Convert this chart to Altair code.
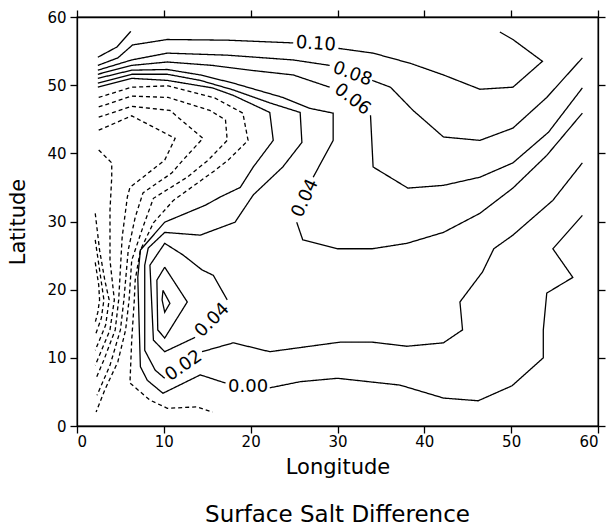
import altair as alt
import pandas as pd

# ---- contour polylines (lon, lat) ----
c_p012 = [(2.4, 54.1), (4.6, 55.6), (6.2, 57.9)]

c_p010_a = [(2.4, 52.9), (4.7, 54.0), (6.4, 55.9), (10.4, 56.7), (17.3, 56.6), (24.9, 56.2)]
c_p010_b = [(30.1, 55.4), (34.1, 54.7), (38.4, 53.2), (42.2, 51.5), (46.4, 49.4), (50.2, 49.7),
            (53.6, 53.5), (50.2, 56.7), (48.7, 57.8)]

c_p008_a = [(2.4, 52.2), (6.3, 53.7), (10.4, 54.7), (17.3, 54.4), (24.9, 53.7), (29.1, 52.9)]
c_p008_b = [(34.0, 50.7), (36.1, 49.7), (38.7, 46.3), (42.2, 42.4), (46.4, 41.9), (50.2, 43.7),
            (54.1, 48.2), (58.2, 54.0)]

c_p006_a = [(2.4, 51.6), (6.3, 52.9), (10.4, 53.4), (15.6, 52.9), (19.9, 52.2), (24.9, 51.5), (29.1, 49.7)]
c_p006_b = [(33.8, 45.6), (34.1, 38.0), (38.1, 34.9), (42.2, 35.3), (46.4, 36.5), (50.2, 38.6),
            (54.3, 43.1), (58.2, 49.6)]

c_p004_a = [(2.4, 51.0), (6.3, 52.2), (10.4, 52.3), (14.2, 51.5), (18.0, 50.3), (23.7, 48.2),
            (26.8, 46.6), (29.5, 45.9), (29.5, 41.9), (27.2, 36.5)]
c_p004_b = [(25.3, 29.9), (26.0, 27.3), (30.0, 26.0), (34.0, 26.0), (38.0, 26.8), (42.2, 28.4),
            (46.4, 31.2), (50.2, 34.9), (54.1, 39.7), (58.2, 45.9)]

c_p002_a = [(2.4, 50.3), (6.3, 51.6), (10.4, 51.6), (14.2, 50.7), (18.0, 49.3), (22.2, 47.4),
            (25.7, 46.0), (25.9, 41.6), (23.7, 38.0), (20.3, 33.9), (18.2, 29.9), (14.2, 28.0),
            (10.1, 28.4), (8.2, 26.1), (7.8, 23.6), (7.8, 11.1), (9.0, 8.2), (10.1, 7.0)]
c_p002_b = [(14.4, 10.9), (18.0, 12.2), (22.2, 10.9), (30.3, 12.3), (34.0, 12.3), (38.0, 11.7),
            (42.2, 12.2), (44.4, 14.1), (44.1, 18.2), (46.7, 22.6), (48.0, 26.0), (50.2, 28.0),
            (54.8, 33.1), (58.2, 38.6)]

c_p004_loop_a = [(17.3, 18.5), (15.7, 22.1), (14.4, 22.9), (12.2, 25.1), (10.1, 26.8), (8.4, 23.6),
                 (8.8, 12.6), (10.1, 10.9), (13.6, 13.0)]
c_p006_loop = [(10.1, 23.3), (12.7, 18.2), (10.1, 12.9), (9.3, 14.1), (9.2, 21.4), (10.1, 23.3)]
c_p008_loop = [(9.9, 19.9), (10.7, 18.0), (10.1, 16.7), (9.8, 18.5), (9.9, 19.9)]

c_000_a = [(2.4, 49.7), (6.3, 51.0), (10.4, 50.7), (15.6, 49.6), (18.0, 48.5), (22.2, 46.0),
           (22.6, 41.9), (20.3, 38.0), (18.8, 35.0), (16.5, 33.6), (14.8, 32.4), (10.1, 29.9),
           (7.3, 25.8), (7.0, 21.8), (7.3, 8.7), (8.1, 6.7), (9.9, 4.8), (14.2, 7.5), (17.1, 6.3)]
c_000_b = [(22.2, 5.6), (25.7, 6.5), (30.0, 7.0), (37.2, 6.0), (42.2, 4.1), (46.2, 3.7), (50.1, 5.9),
           (53.7, 10.0), (53.7, 14.1), (54.1, 19.5), (57.1, 21.8), (54.8, 26.0), (58.2, 30.9)]

c_m002 = [(2.5, 48.2), (6.3, 49.7), (10.5, 49.9), (15.9, 48.1), (19.1, 45.9), (19.7, 41.9), (17.4, 39.0),
          (15.9, 37.5), (11.1, 33.1), (8.8, 29.8), (7.3, 25.8), (6.7, 21.4), (6.6, 18.5), (6.3, 12.6),
          (6.1, 6.3), (8.4, 3.8), (10.4, 2.6), (13.8, 2.8), (15.6, 2.05)]
c_m004 = [(2.5, 46.8), (6.3, 48.4), (10.5, 48.2), (15.3, 46.3), (17.1, 44.9), (17.3, 41.9), (15.1, 39.0),
          (12.7, 36.5), (8.8, 33.4), (7.6, 29.2), (6.3, 24.3), (6.0, 18.5), (5.6, 14.1), (4.7, 9.4),
          (3.2, 5.3), (2.2, 2.05)]
c_m006 = [(2.5, 45.3), (6.3, 46.9), (10.7, 46.3), (14.5, 42.2), (12.2, 39.0), (10.9, 37.1), (7.6, 34.2),
          (6.7, 30.6), (5.9, 25.8), (5.4, 18.5), (5.0, 14.1), (3.8, 8.9), (2.3, 4.5)]
c_m008 = [(2.5, 43.4), (6.3, 45.5), (11.3, 42.2), (10.1, 39.0), (6.1, 35.0), (5.8, 33.6), (5.2, 27.7),
          (4.8, 18.5), (4.4, 14.1), (3.1, 9.7), (2.2, 7.0)]
c_m010 = [(2.5, 40.5), (4.0, 38.6), (4.0, 36.5), (3.8, 31.7), (3.8, 24.3), (4.3, 18.5), (3.8, 14.1),
          (2.6, 10.4), (2.1, 8.9)]
c_m012 = [(2.1, 31.2), (2.6, 25.8), (3.2, 21.4), (3.7, 18.5), (3.3, 14.8), (2.1, 11.1)]
c_m014 = [(2.1, 27.3), (2.6, 22.9), (3.1, 18.5), (2.8, 15.8), (2.1, 13.3)]
c_m016 = [(2.1, 24.0), (2.5, 20.7), (2.6, 18.5), (2.4, 16.7), (2.1, 15.2)]

segment_levels = [0.12, 0.10, 0.10, 0.08, 0.08, 0.06, 0.06, 0.04, 0.04, 0.02, 0.02,
                  0.04, 0.06, 0.08, 0.0, 0.0,
                  -0.02, -0.04, -0.06, -0.08, -0.10, -0.12, -0.14, -0.16]
segment_points = [c_p012, c_p010_a, c_p010_b, c_p008_a, c_p008_b, c_p006_a, c_p006_b,
                  c_p004_a, c_p004_b, c_p002_a, c_p002_b,
                  c_p004_loop_a, c_p006_loop, c_p008_loop, c_000_a, c_000_b,
                  c_m002, c_m004, c_m006, c_m008, c_m010, c_m012, c_m014, c_m016]

# ---- contour labels ----
label_text = ["0.10", "0.08", "0.06", "0.04", "0.04", "0.02", "0.00"]
label_lon = [27.5, 31.7, 31.7, 26.3, 15.6, 12.3, 19.7]
label_lat = [56.0, 51.6, 47.9, 33.4, 15.5, 8.8, 5.7]
label_angle = [4, 20, 37, 295, 315, 325, 0]

ticks = [0, 10, 20, 30, 40, 50, 60]

rows = []
for sid, (lvl, pts) in enumerate(zip(segment_levels, segment_points)):
    for i, (lon, lat) in enumerate(pts):
        rows.append({"seg": sid, "level": lvl, "style": "dashed" if lvl < 0 else "solid",
                     "i": i, "lon": lon, "lat": lat})
df = pd.DataFrame(rows)
labels_df = pd.DataFrame({"text": label_text, "lon": label_lon, "lat": label_lat, "ang": label_angle})

FONT = "DejaVu Sans"
xs = alt.Scale(domain=[0, 60], nice=False, zero=False)
ys = alt.Scale(domain=[0, 60], nice=False, zero=False)

lines = alt.Chart(df).mark_line(color="black", strokeWidth=1.3).encode(
    x=alt.X("lon:Q", scale=xs, axis=alt.Axis(values=ticks, title="Longitude", orient="bottom",
                                             labelPadding=1, titlePadding=7)),
    y=alt.Y("lat:Q", scale=ys, axis=alt.Axis(values=ticks, title="Latitude", orient="left",
                                             labelPadding=4, titlePadding=18)),
    detail="seg:N",
    order="i:Q",
    strokeDash=alt.StrokeDash("style:N", scale=alt.Scale(domain=["solid", "dashed"],
                                                         range=[[1, 0], [4, 3]]), legend=None),
)

labels = alt.Chart(labels_df).mark_text(font=FONT, fontSize=18, color="black",
                                        align="center", baseline="middle").encode(
    x=alt.X("lon:Q", scale=xs, axis=None),
    y=alt.Y("lat:Q", scale=ys, axis=None),
    text="text:N",
    angle=alt.Angle("ang:Q", scale=None),
)

frame = alt.Chart(labels_df).mark_point(opacity=0).encode(
    x=alt.X("lon:Q", scale=xs, axis=alt.Axis(values=ticks, orient="top", labels=False, title="")),
    y=alt.Y("lat:Q", scale=ys, axis=alt.Axis(values=ticks, orient="right", labels=False, title="")),
)

chart = alt.layer(lines, labels, frame).resolve_axis(x="independent", y="independent").properties(
    width=521,
    height=409,
    autosize=alt.AutoSizeParams(type="none"),
    padding={"left": 77, "top": 17, "right": 10, "bottom": 104},
    title=alt.TitleParams("Surface Salt Difference", orient="bottom", anchor="middle",
                          fontSize=23, fontWeight="normal", font=FONT, color="black", offset=27),
).configure_axis(
    grid=False,
    domainColor="black", domainWidth=1.3,
    tickColor="black", tickWidth=1.3, tickSize=7,
    labelColor="black", labelFont=FONT, labelFontSize=15,
    titleColor="black", titleFont=FONT, titleFontSize=21, titleFontWeight="normal",
).configure_view(stroke="black", strokeWidth=1.3)

chart.save("out.html", embed_options={"renderer": "svg", "actions": False})
